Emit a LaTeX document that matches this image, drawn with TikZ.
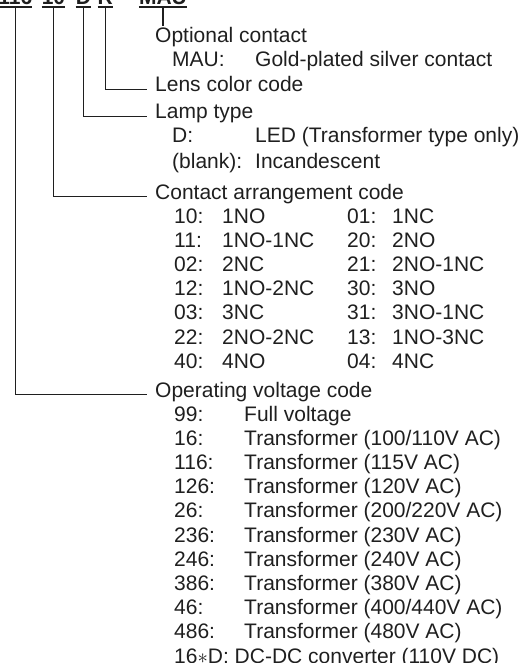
\documentclass[tikz,border=0pt]{standalone}
\usepackage{fontspec}
\setmainfont{Liberation Sans}
\begin{document}
\begin{tikzpicture}[x=1pt,y=1pt,
  hdr/.style={font=\fontsize{21}{24}\selectfont\bfseries, inner sep=0pt, anchor=base, text=black!88},
  lbl/.style={font=\fontsize{21}{24}\selectfont, inner ysep=2pt, inner xsep=8pt, anchor=base west, text=black!88},
  txt/.style={font=\fontsize{21}{24}\selectfont, inner sep=0pt, anchor=base west, text=black!88},
  conn/.style={line width=1.1pt, draw=black!88},
  uline/.style={line width=1.2pt, draw=black!88}]
\useasboundingbox (0,0) rectangle (522,-663);

% header (cut by the top edge)
\node[hdr] (h1) at (15.3,-4.5) {116};
\node[hdr] (h2) at (53.5,-4.5) {10};
\node[hdr] (h3) at (83.5,-4.5) {D};
\node[hdr] (h4) at (105.3,-4.5) {R};
\node[hdr] (h5) at (163,-4.5) {MAU};
\foreach \n in {1,...,5}{
  \draw[uline] ([yshift=-2.5pt]h\n.base west) -- ([yshift=-2.5pt]h\n.base east);
  \coordinate (u\n) at ([yshift=-2.5pt]h\n.base);
}

% group labels
\node[lbl] (opt)     at (147,-43)  {Optional contact};
\node[lbl] (lens)    at (147,-92)  {Lens color code};
\node[lbl] (lamp)    at (147,-119) {Lamp type};
\node[lbl] (contact) at (147,-199) {Contact arrangement code};
\node[lbl] (oper)    at (147,-397) {Operating voltage code};

% connectors
\draw[conn] (u5) -- (u5 |- opt.north);
\draw[conn] (u4) |- (lens.mid west);
\draw[conn] (u3) |- (lamp.mid west);
\draw[conn] (u2) |- (contact.mid west);
\draw[conn] (u1) |- (oper.mid west);

% optional contact
\node[txt] (mauc) at (172,-67) {MAU:};
\node[txt] (maud) at (255,-67) {Gold-plated silver contact};

% lamp type
\node[txt] (ledc) at (172,-143) {D:};
\node[txt] (ledd) at (255,-143) {LED (Transformer type only)};
\node[txt] (blkc) at (172,-168) {(blank):};
\node[txt] (blkd) at (255,-168) {Incandescent};

% contact arrangement
\foreach \a/\b/\c/\d [count=\k from 0] in
  {10/1NO/01/1NC, 11/1NO-1NC/20/2NO, 02/2NC/21/2NO-1NC, 12/1NO-2NC/30/3NO,
   03/3NC/31/3NO-1NC, 22/2NO-2NC/13/1NO-3NC, 40/4NO/04/4NC}{
  \pgfmathsetmacro\yy{-223-24.2*\k}
  \node[txt] (ca\k) at (174,\yy) {\a:};
  \node[txt] (cb\k) at (222,\yy) {\b};
  \node[txt] (cc\k) at (347,\yy) {\c:};
  \node[txt] (cd\k) at (392,\yy) {\d};
}

% operating voltage
\foreach \a/\b [count=\k from 0] in
  {99/Full voltage, 16/Transformer (100{/}110V AC), 116/Transformer (115V AC),
   126/Transformer (120V AC), 26/Transformer (200{/}220V AC), 236/Transformer (230V AC),
   246/Transformer (240V AC), 386/Transformer (380V AC), 46/Transformer (400{/}440V AC),
   486/Transformer (480V AC)}{
  \pgfmathsetmacro\yy{-421-24.2*\k}
  \node[txt] (va\k) at (174,\yy) {\a:};
  \node[txt] (vb\k) at (244,\yy) {\b};
}
\node[txt] (vdc) at (174,-663) {16$\ast$D: DC-DC converter (110V DC)};
\end{tikzpicture}
\end{document}
